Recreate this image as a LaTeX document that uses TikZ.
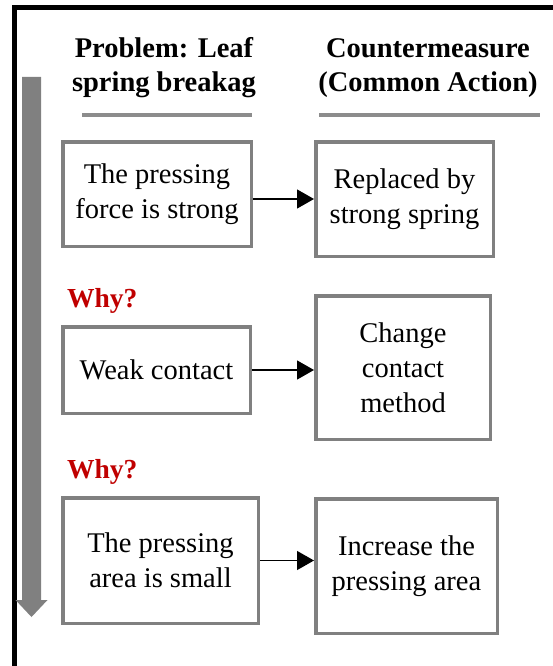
\documentclass[tikz,border=0pt]{standalone}
\usepackage{fontspec}
\setmainfont{Liberation Serif}
\usetikzlibrary{arrows.meta}
\definecolor{boxgray}{RGB}{128,128,128}
\definecolor{rulegray}{RGB}{140,140,140}
\definecolor{whyred}{RGB}{192,0,0}
\begin{document}
\begin{tikzpicture}[x=1pt,y=-1pt,
  box/.style={draw=boxgray, line width=3.5pt, fill=white, align=center,
    inner sep=0pt, font=\fontsize{28.5}{35}\selectfont},
  head/.style={align=center, inner sep=0pt,
    font=\fontsize{28.5}{34}\selectfont\bfseries},
  why/.style={inner sep=0pt, anchor=base west, text=whyred,
    font=\fontsize{27.5}{33}\selectfont\bfseries},
  conn/.style={line width=1.3pt, -{Triangle[length=17pt,width=19pt]}},
  headrule/.style={draw=rulegray, line width=4pt}]
\useasboundingbox (0,0) rectangle (553,666);
\fill[white] (0,0) rectangle (553,666);

% outer frame (top and left edges)
\draw[line width=5pt, line join=miter] (14,666) -- (14,7.5) -- (553,7.5);

% flow direction arrow
\fill[boxgray] (22,77) -- (41,77) -- (41,600) -- (47.5,600) -- (31.5,617)
  -- (15.5,600) -- (22,600) -- cycle;

% column headers
\node[head] (hleft) at (164,68) {Problem: Leaf\\spring breakag};
\node[head] (hright) at (428,68) {Countermeasure\\(Common Action)};
\coordinate (hl1) at (82,115);  \coordinate (hl2) at (252,115);
\coordinate (hr1) at (319,115); \coordinate (hr2) at (540,115);
\draw[headrule] (hl1) -- (hl2);
\draw[headrule] (hr1) -- (hr2);

% problem chain
\node[box, minimum width=188.5pt, minimum height=104.5pt] (p1) at (157,194)
  {The pressing\\force is strong};
\node[box, minimum width=187.5pt, minimum height=86.5pt] (p2) at (156.5,370)
  {Weak contact};
\node[box, minimum width=195.5pt, minimum height=125.5pt] (p3) at (160.5,560.5)
  {The pressing\\area is small};

\node[why] (w1) at (67,307) {Why?};
\node[why] (w2) at (67,478) {Why?};

% countermeasures
\node[box, minimum width=177.5pt, minimum height=114.5pt] (c1) at (404.5,199)
  {Replaced by\\strong spring};
\node[box, minimum width=174.5pt, minimum height=143.5pt] (c2) at (403,367.5)
  {Change\\contact\\method};
\node[box, minimum width=181.5pt, minimum height=134.5pt] (c3) at (406.5,566)
  {Increase the\\pressing area};

% links
\draw[conn] (p1.east |- c1.west) -- (c1.west);
\draw[conn] (p2.east) -- (p2.east -| c2.west);
\draw[conn] (p3.east) -- (p3.east -| c3.west);
\end{tikzpicture}
\end{document}
